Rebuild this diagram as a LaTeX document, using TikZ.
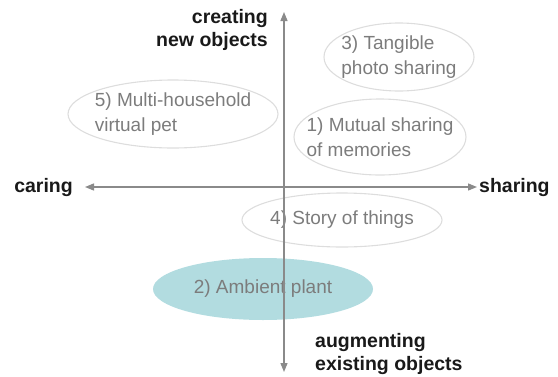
\documentclass[tikz,border=0pt]{standalone}
\usepackage{fontspec}
\setmainfont{Liberation Sans}
\usetikzlibrary{arrows.meta,positioning,backgrounds}
\definecolor{axisgray}{HTML}{8A8A8A}
\definecolor{ideagray}{HTML}{7C7C7C}
\definecolor{ringgray}{HTML}{DDDDDD}
\definecolor{plantteal}{HTML}{B2DCE0}
\begin{document}
\begin{tikzpicture}[x=1pt,y=-1pt,
  idea/.style={text=ideagray,align=left,inner sep=0pt,font=\fontsize{19}{25}\selectfont},
  ring/.style={draw=ringgray,line width=1.1pt},
  axlabel/.style={font=\bfseries\fontsize{19.5}{23}\selectfont,text=black!90,inner sep=0pt},
  axis/.style={{Triangle[length=9pt,width=7pt]}-{Triangle[length=9pt,width=7pt]},draw=axisgray,line width=1.3pt}
]
\useasboundingbox (0,0) rectangle (558,376);
% ideas
\node[idea] (photo) at (399,57) {3) Tangible\\photo sharing};
\node[idea] (memories) at (380,137) {1) Mutual sharing\\of memories};
\node[idea] (pet) at (173,114) {5) Multi-household\\virtual pet};
\node[idea] (story) at (342,220) {4) Story of things};
\node[idea] (plant) at (263,289) {2) Ambient plant};
\begin{scope}[on background layer]
\draw[ring] (photo) ellipse[x radius=75pt,y radius=34pt];
\draw[ring] (memories) ellipse[x radius=86pt,y radius=38pt];
\draw[ring] (pet) ellipse[x radius=105pt,y radius=34pt];
\draw[ring] (story) ellipse[x radius=100pt,y radius=27pt];
\fill[plantteal] (plant) ellipse[x radius=110pt,y radius=31pt];
\end{scope}
% axes
\coordinate (left) at (85,187);
\coordinate (right) at (477,187);
\coordinate (up) at (284,12);
\coordinate (down) at (284,372);
\draw[axis] (left) -- (right);
\draw[axis] (up) -- (down);
\node[axlabel,left=12pt of left] (caring) {caring};
\node[axlabel,right=2pt of right] (sharing) {sharing};
\node[axlabel,align=right,anchor=east] (create) at (268,30) {creating\\new objects};
\node[axlabel,align=left,anchor=west] (augment) at (315,354) {augmenting\\existing objects};
\end{tikzpicture}
\end{document}
